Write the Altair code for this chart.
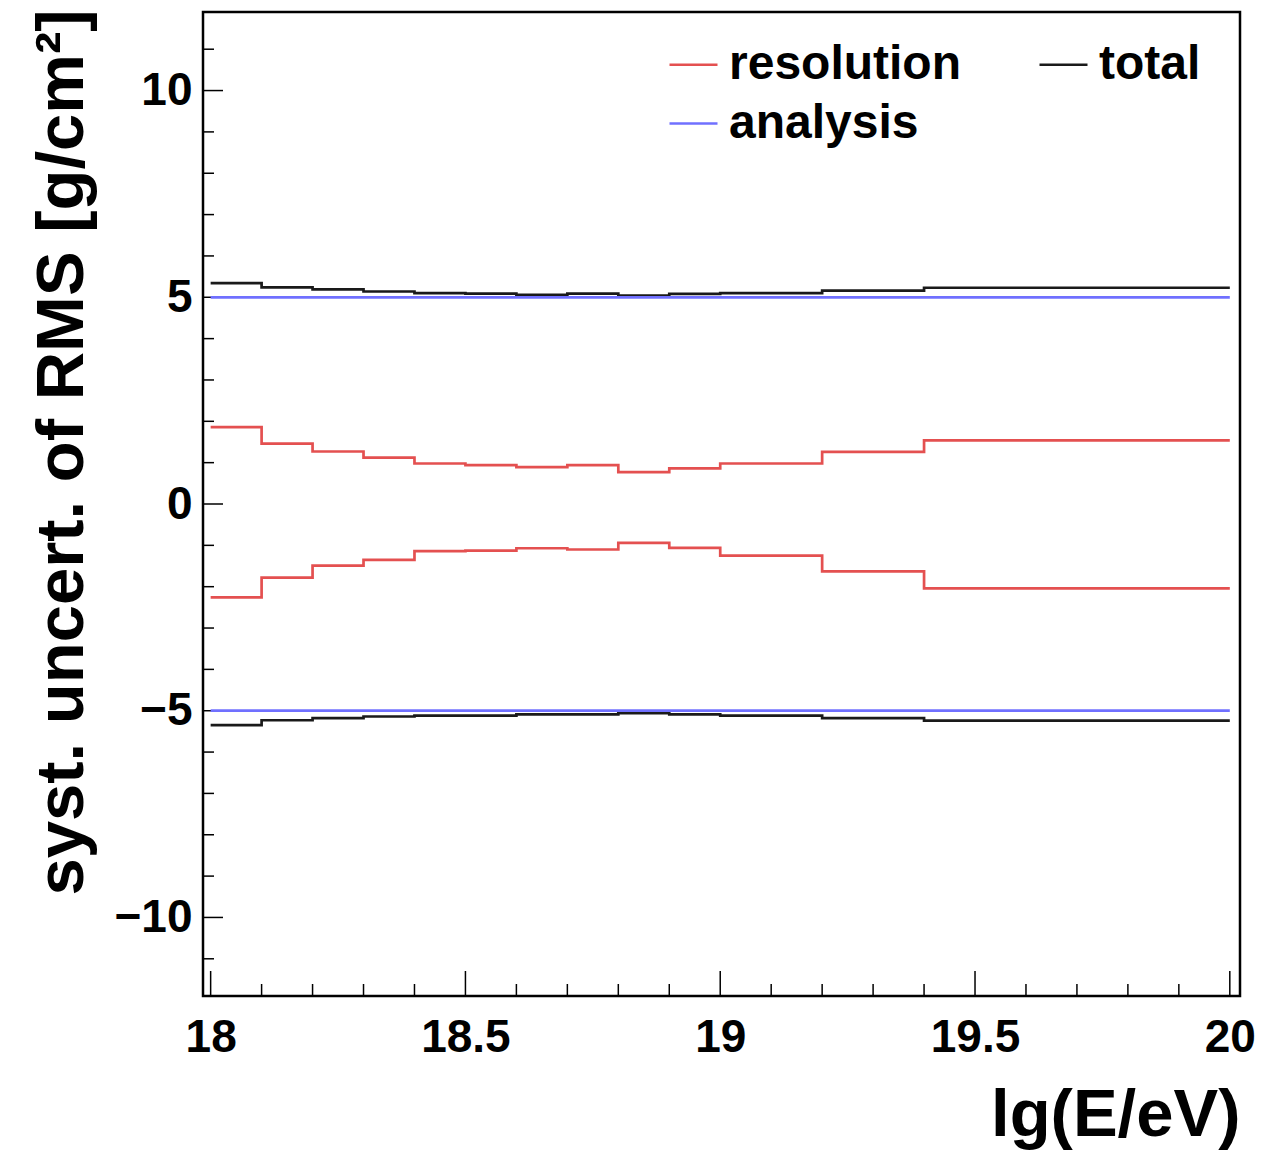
import altair as alt
import pandas as pd

# bin edges in lg(E/eV)
edges = [18.0, 18.1, 18.2, 18.3, 18.4, 18.5, 18.6, 18.7, 18.8, 18.9, 19.0, 19.2, 19.4, 20.0]

res_up = [1.86, 1.46, 1.27, 1.12, 0.98, 0.94, 0.89, 0.94, 0.77, 0.86, 0.98, 1.26, 1.54]
res_low = [-2.26, -1.78, -1.49, -1.35, -1.14, -1.13, -1.07, -1.10, -0.94, -1.06, -1.25, -1.63, -2.04]
ana_up = [5.0] * 13
ana_low = [-5.0] * 13
tot_up = [5.34, 5.24, 5.19, 5.14, 5.10, 5.09, 5.06, 5.09, 5.04, 5.08, 5.10, 5.16, 5.23]
tot_low = [-5.35, -5.23, -5.18, -5.14, -5.12, -5.12, -5.09, -5.09, -5.06, -5.09, -5.12, -5.18, -5.24]

series_names = ["resolution", "analysis", "total"]
series_colors = ["#e45050", "#7070ff", "#1a1a1a"]

x_major = [18.0, 18.5, 19.0, 19.5, 20.0]
x_minor = [18.1, 18.2, 18.3, 18.4, 18.6, 18.7, 18.8, 18.9, 19.1, 19.2, 19.3, 19.4,
           19.6, 19.7, 19.8, 19.9]
y_major = [-10, -5, 0, 5, 10]
y_minor = [-11, -9, -8, -7, -6, -4, -3, -2, -1, 1, 2, 3, 4, 6, 7, 8, 9, 11]

W, H = 1037, 984
FONT = "Liberation Sans"

rows = []
for name, part, vals in [("resolution", "up", res_up), ("resolution", "low", res_low),
                         ("total", "up", tot_up), ("total", "low", tot_low),
                         ("analysis", "up", ana_up), ("analysis", "low", ana_low)]:
    for i in range(len(vals)):
        rows.append({"series": name, "part": name + part, "x": edges[i], "y": vals[i], "o": i})
    rows.append({"series": name, "part": name + part, "x": edges[-1], "y": vals[-1], "o": len(vals)})
df = pd.DataFrame(rows)

xscale = alt.Scale(domain=[17.985, 20.02], nice=False, zero=False)
yscale = alt.Scale(domain=[-11.9, 11.9], nice=False, zero=False)


def X(field="x"):
    return alt.X(f"{field}:Q", scale=xscale,
                 axis=alt.Axis(values=x_major, format="~g", title="lg(E/eV)",
                               ticks=False, domain=False, grid=False, labelFlush=False,
                               labelFont=FONT, labelFontSize=46, labelFontWeight="bold",
                               labelColor="black", labelPadding=19, labelBaseline="top",
                               titleFont=FONT, titleFontSize=67, titleFontWeight="bold",
                               titleColor="black", titleAlign="right", titleAnchor="end",
                               titleBaseline="alphabetic", titleX=W, titleY=139))


def Y(field="y"):
    return alt.Y(f"{field}:Q", scale=yscale,
                 axis=alt.Axis(values=y_major, format="d",
                               title="syst. uncert. of RMS [g/cm²]",
                               ticks=False, domain=False, grid=False, labelFlush=False,
                               labelFont=FONT, labelFontSize=46, labelFontWeight="bold",
                               labelColor="black", labelPadding=11,
                               titleFont=FONT, titleFontSize=67, titleFontWeight="bold",
                               titleColor="black", titleAngle=-90, titleAlign="right",
                               titleBaseline="alphabetic", titleX=-121, titleY=-3))


color = alt.Color("series:N",
                  scale=alt.Scale(domain=series_names, range=series_colors),
                  sort=series_names,
                  legend=alt.Legend(title=None, orient="none", legendX=465, legendY=27,
                                    columns=2, symbolType="stroke", symbolSize=2304,
                                    symbolStrokeWidth=2.5, labelOffset=10, columnPadding=72,
                                    rowPadding=9, labelFont=FONT, labelFontSize=48,
                                    labelFontWeight="bold", labelColor="black",
                                    labelLimit=500, padding=0))

lines = alt.Chart(df).mark_line(interpolate="step-after", strokeWidth=2.7).encode(
    x=X(), y=Y(), color=color, detail="part:N", order="o:Q"
)

xmaj = alt.Chart(pd.DataFrame({"x": x_major})).mark_rule(color="black", strokeWidth=1.5).encode(
    x=X(), y=alt.value(H), y2=alt.value(H - 25))
xmin = alt.Chart(pd.DataFrame({"x": x_minor})).mark_rule(color="black", strokeWidth=1.5).encode(
    x=X(), y=alt.value(H), y2=alt.value(H - 12))
ymaj = alt.Chart(pd.DataFrame({"y": y_major})).mark_rule(color="black", strokeWidth=1.5).encode(
    y=Y(), x=alt.value(0), x2=alt.value(20))
ymin = alt.Chart(pd.DataFrame({"y": y_minor})).mark_rule(color="black", strokeWidth=1.5).encode(
    y=Y(), x=alt.value(0), x2=alt.value(11))

chart = alt.layer(xmaj, xmin, ymaj, ymin, lines).properties(
    width=W, height=H,
    autosize=alt.AutoSizeParams(type="none"),
    padding={"left": 195, "top": 4, "right": 30, "bottom": 160},
).configure_view(stroke="black", strokeWidth=2.5)

chart.save("out.html", embed_options={"renderer": "svg", "actions": False})
